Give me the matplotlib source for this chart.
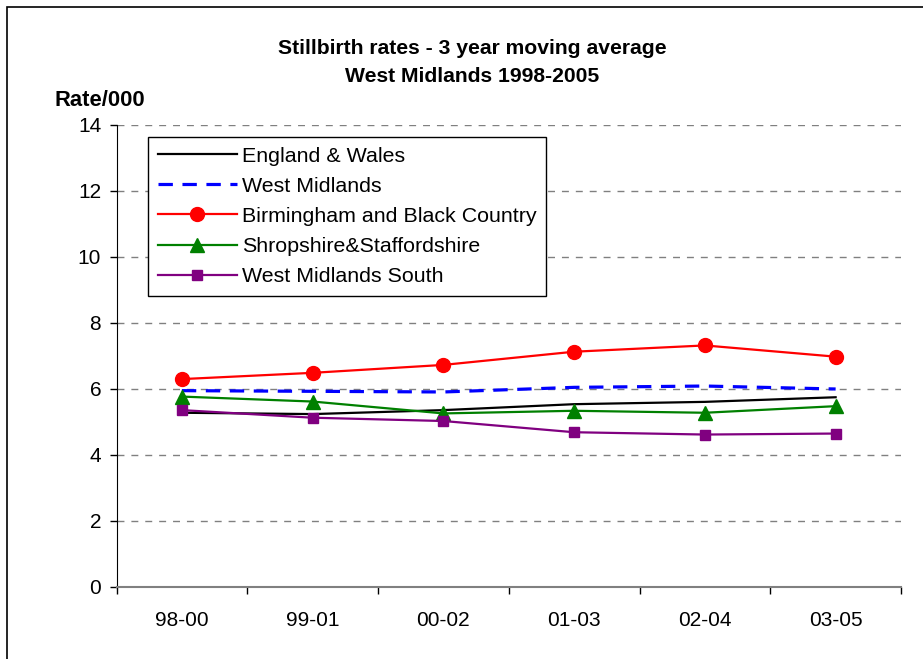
import matplotlib
matplotlib.use("Agg")
import matplotlib.pyplot as plt
from matplotlib.patches import Rectangle

plt.rcParams['font.family'] = ['Liberation Sans', 'DejaVu Sans']

categories = ["98-00", "99-01", "00-02", "01-03", "02-04", "03-05"]
england_wales = [5.28, 5.24, 5.36, 5.54, 5.61, 5.75]
west_midlands = [5.95, 5.93, 5.91, 6.05, 6.09, 6.00]
birmingham_bc = [6.30, 6.49, 6.73, 7.13, 7.32, 6.98]
shrop_staffs = [5.77, 5.62, 5.26, 5.34, 5.28, 5.48]
wm_south = [5.36, 5.13, 5.03, 4.69, 4.62, 4.65]
yticks = [0, 2, 4, 6, 8, 10, 12, 14]

W, H = 923, 659
fig = plt.figure(figsize=(W / 100, H / 100), dpi=100)
ax = fig.add_axes([116.5 / W, 1 - 587 / H, (901 - 116.5) / W, (587 - 125) / H])

x = list(range(len(categories)))
ax.plot(x, england_wales, color='black', lw=1.6, label='England & Wales', zorder=3)
ax.plot(x, west_midlands, color='#0000FF', lw=2.3, dashes=(4.5, 3), label='West Midlands', zorder=3)
ax.plot(x, birmingham_bc, color='#FF0000', lw=1.6, marker='o', ms=10, label='Birmingham and Black Country', zorder=4)
ax.plot(x, shrop_staffs, color='#008000', lw=1.6, marker='^', ms=10, label='Shropshire&Staffordshire', zorder=4)
ax.plot(x, wm_south, color='#800080', lw=1.6, marker='s', ms=7, label='West Midlands South', zorder=4)

ax.set_xlim(-0.5, len(categories) - 0.5)
ax.set_ylim(0, 14)
ax.set_yticks(yticks)
ax.set_yticklabels([str(v) for v in yticks], fontsize=15)
ax.set_xticks(x)
ax.set_xticklabels(categories, fontsize=15)
ax.set_xticks([i - 0.5 for i in range(len(categories) + 1)], minor=True)
ax.tick_params(axis='x', which='major', length=0, pad=17)
ax.tick_params(axis='x', which='minor', length=5, direction='out', color='black', width=1)
ax.tick_params(axis='y', which='major', length=5, direction='out', width=1, pad=6)

ax.yaxis.grid(True, color='#808080', lw=1, dashes=(5, 5))
ax.set_axisbelow(True)
for s in ['top', 'right']:
    ax.spines[s].set_visible(False)
ax.spines['left'].set_color('black')
ax.spines['bottom'].set_color('#808080')
ax.spines['bottom'].set_linewidth(1.5)

leg = ax.legend(loc='upper left', bbox_to_anchor=((148 - 116.5) / (901 - 116.5), (587 - 137) / (587 - 125)),
                fontsize=15.4, frameon=True, fancybox=False, edgecolor='black', framealpha=1,
                handlelength=3.7, borderpad=0.45, labelspacing=0.52, handletextpad=0.23, borderaxespad=0)
leg.get_frame().set_linewidth(1)

fig.text(472 / W, 1 - 48 / H, "Stillbirth rates - 3 year moving average", ha='center', va='center',
         fontsize=15.2, fontweight='bold')
fig.text(472 / W, 1 - 76 / H, "West Midlands 1998-2005", ha='center', va='center',
         fontsize=15.2, fontweight='bold')
fig.text(55 / W, 1 - 101 / H, "Rate/000", ha='left', va='center', fontsize=15.8, fontweight='bold')

fig.patches.append(Rectangle((7 / W, -0.1), 1.2, 1 - 6.5 / H + 0.1, transform=fig.transFigure,
                             fill=False, edgecolor='black', lw=1.2))

fig.savefig('out.png', dpi=100)
